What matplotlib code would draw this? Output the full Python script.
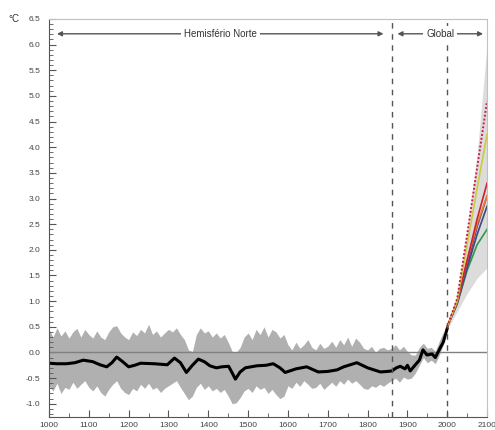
import numpy as np
import matplotlib
matplotlib.use("Agg")
from matplotlib import pyplot as plt
from matplotlib.ticker import MultipleLocator

plt.rcParams['font.family'] = ['Liberation Sans', 'DejaVu Sans']

# gray uncertainty band, one value per decade 1000..1990
band_years = list(range(1000, 2000, 10))
band_upper = [0.45, 0.30, 0.48, 0.32, 0.42, 0.28, 0.40, 0.47, 0.30, 0.45,
              0.35, 0.28, 0.42, 0.30, 0.25, 0.40, 0.50, 0.52, 0.38, 0.30,
              0.25, 0.40, 0.33, 0.45, 0.38, 0.55, 0.35, 0.42, 0.30, 0.38,
              0.45, 0.40, 0.48, 0.35, 0.25, 0.05, 0.02, 0.35, 0.48, 0.38,
              0.42, 0.30, 0.38, 0.28, 0.35, 0.20, 0.02, 0.00, 0.10, 0.30,
              0.38, 0.25, 0.45, 0.35, 0.50, 0.30, 0.45, 0.40, 0.28, 0.35,
              0.15, 0.05, 0.20, 0.08, 0.15, 0.25, 0.10, 0.05, 0.18, 0.08,
              0.12, 0.22, 0.10, 0.25, 0.15, 0.30, 0.12, 0.28, 0.20, 0.08,
              0.05, 0.12, 0.00, 0.08, 0.10, 0.05, 0.08, 0.15, 0.05, 0.12,
              0.02, -0.05, -0.05, 0.10, 0.18, 0.08, 0.10, 0.02, 0.22, 0.40]
band_lower = [-0.65, -0.75, -0.60, -0.80, -0.68, -0.72, -0.58, -0.70, -0.62, -0.55,
              -0.68, -0.75, -0.65, -0.78, -0.85, -0.72, -0.62, -0.55, -0.70, -0.78,
              -0.82, -0.70, -0.75, -0.62, -0.70, -0.60, -0.72, -0.68, -0.78, -0.70,
              -0.65, -0.60, -0.55, -0.68, -0.80, -0.92, -0.85, -0.68, -0.60, -0.72,
              -0.65, -0.75, -0.70, -0.78, -0.72, -0.85, -1.00, -0.98, -0.88, -0.75,
              -0.70, -0.78, -0.65, -0.72, -0.68, -0.80, -0.72, -0.82, -0.90, -0.85,
              -0.65, -0.70, -0.58, -0.66, -0.55, -0.62, -0.70, -0.68, -0.60, -0.72,
              -0.65, -0.58, -0.66, -0.55, -0.62, -0.52, -0.60, -0.55, -0.62, -0.70,
              -0.72, -0.65, -0.68, -0.62, -0.66, -0.60, -0.55, -0.50, -0.58, -0.48,
              -0.52, -0.50, -0.40, -0.25, -0.10, -0.20, -0.15, -0.22, -0.05, 0.15]

# smoothed reconstruction + instrumental record
rec_years = [1000, 1020, 1044, 1065, 1086, 1110, 1128, 1145, 1158, 1170,
             1185, 1200, 1215, 1230, 1264, 1297, 1315, 1330, 1345, 1360,
             1375, 1390, 1404, 1420, 1434, 1451, 1460, 1468, 1480, 1493,
             1522, 1545, 1563, 1580, 1593, 1620, 1647, 1676, 1700, 1723,
             1740, 1773, 1800, 1832, 1850, 1861, 1872, 1882, 1894, 1900,
             1907, 1920, 1930, 1939, 1949, 1962, 1970, 1983, 1990, 2000]
rec_temp = [-0.21, -0.22, -0.22, -0.20, -0.15, -0.18, -0.24, -0.28, -0.20, -0.09,
            -0.18, -0.28, -0.25, -0.21, -0.22, -0.24, -0.11, -0.20, -0.39, -0.25,
            -0.13, -0.18, -0.26, -0.30, -0.28, -0.27, -0.40, -0.52, -0.38, -0.30,
            -0.26, -0.25, -0.22, -0.30, -0.39, -0.32, -0.28, -0.38, -0.37, -0.34,
            -0.28, -0.20, -0.30, -0.38, -0.37, -0.36, -0.30, -0.27, -0.32, -0.25,
            -0.36, -0.24, -0.15, 0.05, -0.05, -0.03, -0.10, 0.10, 0.20, 0.47]

# projections 2000-2100
proj_years = [2000, 2025, 2050, 2075, 2100]
env_upper = [0.55, 1.10, 2.40, 3.85, 6.00]
env_lower = [0.45, 0.80, 1.15, 1.45, 1.65]
scen_dotted = [0.50, 1.05, 2.30, 3.60, 4.90]
scen_yellow = [0.50, 1.00, 2.10, 3.20, 4.25]
scen_red = [0.50, 1.00, 1.80, 2.60, 3.30]
scen_orange = [0.50, 1.00, 1.80, 2.50, 3.05]
scen_purple = [0.50, 0.98, 1.70, 2.45, 3.05]
scen_slate = [0.50, 0.95, 1.65, 2.30, 2.85]
scen_green = [0.50, 0.95, 1.60, 2.10, 2.40]

fig = plt.figure(figsize=(4.95, 4.3), dpi=100)
ax = fig.add_axes([0.099, 0.030, 0.885, 0.926])

ax.fill_between(band_years, band_lower, band_upper, color='#b0b0b0', lw=0)
ax.fill_between(proj_years, env_lower, env_upper, color='#dcdcdc', lw=0)
ax.axhline(0, color='#808080', lw=1.0)

ax.plot(proj_years, scen_green, color='#2e9a48', lw=1.2)
ax.plot(proj_years, scen_slate, color='#3c4c72', lw=1.2)
ax.plot(proj_years, scen_purple, color='#6040a0', lw=1.2)
ax.plot(proj_years, scen_orange, color='#e8802a', lw=1.2)
ax.plot(proj_years, scen_red, color='#d0202c', lw=1.2)
ax.plot(proj_years, scen_yellow, color='#cccc40', lw=1.2)
ax.plot(proj_years, scen_dotted, color='#c8204a', lw=1.4, ls=(0, (1, 1)))

ax.plot(rec_years, rec_temp, color='black', lw=2.2,
        solid_joinstyle='round', solid_capstyle='round')

for yr in (1860, 2000):
    ax.axvline(yr, color='#555555', lw=1.0, ls=(0, (4, 4)))

arrow = dict(arrowstyle='<|-|>', color='#555555', lw=1.0,
             mutation_scale=7, shrinkA=0, shrinkB=0)
ax.annotate('', xy=(1020, 6.21), xytext=(1840, 6.21), arrowprops=arrow)
ax.annotate('', xy=(1875, 6.21), xytext=(2090, 6.21), arrowprops=arrow)
ax.text(1430, 6.21, 'Hemisfério Norte', ha='center', va='center', fontsize=7,
        color='#333333', bbox=dict(fc='white', ec='none', pad=2))
ax.text(1982, 6.21, 'Global', ha='center', va='center', fontsize=7,
        color='#333333', bbox=dict(fc='white', ec='none', pad=2))

ax.set_xlim(1000, 2100)
ax.set_ylim(-1.26, 6.5)
ax.xaxis.set_major_locator(MultipleLocator(100))
ax.xaxis.set_minor_locator(MultipleLocator(50))
ax.yaxis.set_major_locator(MultipleLocator(0.5))
ax.yaxis.set_minor_locator(MultipleLocator(0.1))
ax.yaxis.set_major_formatter(lambda v, p: '%.1f' % v)
ax.tick_params(which='both', direction='in', colors='#555555', labelsize=6,
               labelcolor='#444444', top=False, right=False)
ax.tick_params(which='major', length=5, width=0.8)
ax.tick_params(which='minor', length=3, width=0.6)
ax.tick_params(axis='y', pad=6)

for side in ('left', 'bottom'):
    ax.spines[side].set_color('#555555')
for side in ('top', 'right'):
    ax.spines[side].set_color('#c0c0c0')

fig.text(0.016, 0.956, '°C', fontsize=7, color='#333333', va='center')

fig.savefig('out.png', dpi=100)
